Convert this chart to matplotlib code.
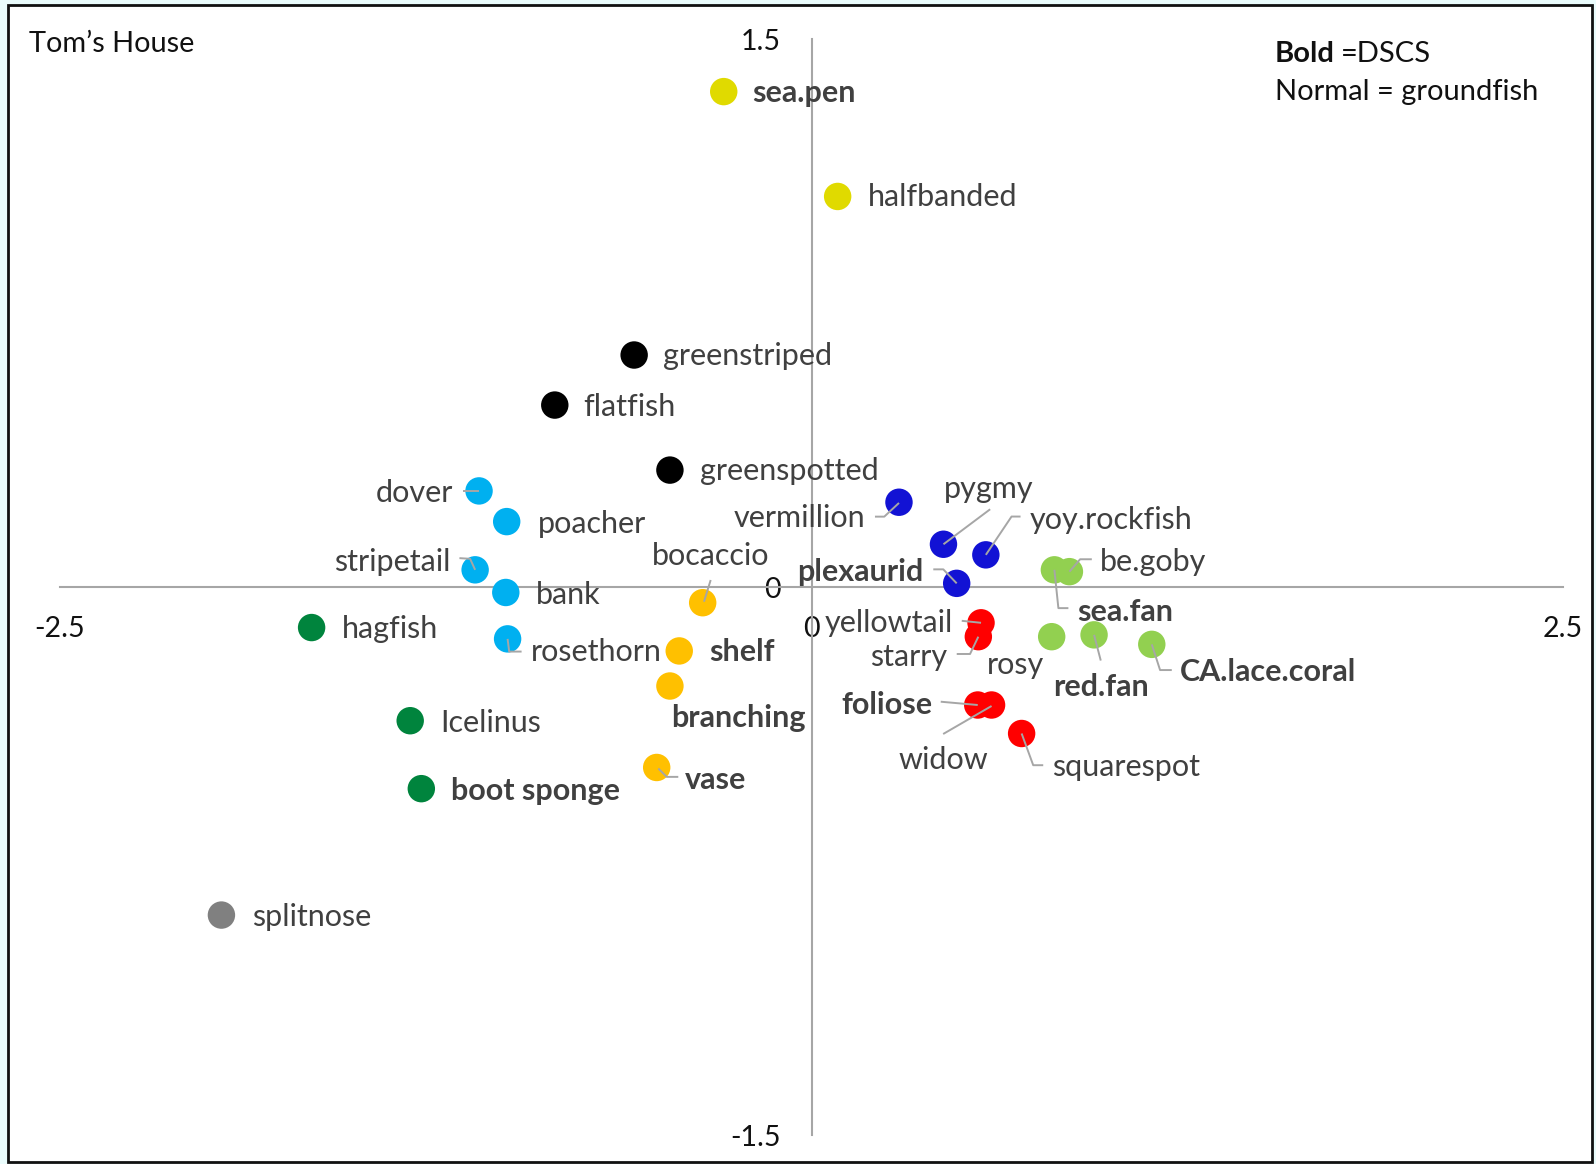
import matplotlib
matplotlib.use("Agg")
import matplotlib.pyplot as plt
from matplotlib.patches import Rectangle

plt.rcParams['font.family'] = ['Lato', 'DejaVu Sans']

# ordination scores
names = ['sea.pen', 'halfbanded', 'greenstriped', 'flatfish', 'greenspotted',
         'dover', 'poacher', 'stripetail', 'bank', 'rosethorn',
         'hagfish', 'Icelinus', 'boot sponge', 'splitnose',
         'bocaccio', 'shelf', 'branching', 'vase',
         'vermillion', 'pygmy', 'yoy.rockfish', 'plexaurid',
         'sea.fan', 'be.goby', 'rosy', 'red.fan', 'CA.lace.coral',
         'yellowtail', 'starry', 'foliose', 'widow', 'squarespot']
xs = [-0.292, 0.087, -0.590, -0.854, -0.471,
      -1.106, -1.014, -1.119, -1.017, -1.011,
      -1.663, -1.335, -1.298, -1.963,
      -0.362, -0.440, -0.471, -0.515,
      0.291, 0.439, 0.580, 0.483,
      0.808, 0.858, 0.799, 0.940, 1.132,
      0.564, 0.555, 0.553, 0.599, 0.699]
ys = [1.356, 1.069, 0.635, 0.498, 0.320,
      0.263, 0.179, 0.047, -0.015, -0.142,
      -0.111, -0.366, -0.552, -0.898,
      -0.043, -0.175, -0.271, -0.494,
      0.232, 0.117, 0.088, 0.010,
      0.047, 0.042, -0.136, -0.131, -0.157,
      -0.098, -0.136, -0.323, -0.323, -0.401]
groups = ['yellow', 'yellow', 'black', 'black', 'black',
          'lblue', 'lblue', 'lblue', 'lblue', 'lblue',
          'dgreen', 'dgreen', 'dgreen', 'grey',
          'orange', 'orange', 'orange', 'orange',
          'blue', 'blue', 'blue', 'blue',
          'lgreen', 'lgreen', 'lgreen', 'lgreen', 'lgreen',
          'red', 'red', 'red', 'red', 'red']
dscs = ['sea.pen', 'boot sponge', 'shelf', 'branching', 'vase', 'plexaurid',
        'sea.fan', 'red.fan', 'CA.lace.coral', 'foliose']

colors = {'yellow': '#E0DA00', 'black': '#000000', 'lblue': '#00B0F0',
          'dgreen': '#00843D', 'grey': '#808080', 'orange': '#FFC000',
          'blue': '#1212D4', 'lgreen': '#92D050', 'red': '#FF0000'}

# label placement in image pixels from the dot (y down): dx, dy, ha, leader points
label_pos = {
    'sea.pen': (28.5, 1, 'left', None),
    'halfbanded': (30.5, 1, 'left', None),
    'greenstriped': (28.5, 1, 'left', None),
    'flatfish': (28.5, 2, 'left', None),
    'greenspotted': (30, 1, 'left', None),
    'dover': (-25.7, 2, 'right', [(-16, 0), (0, 0)]),
    'poacher': (31, 2, 'left', None),
    'stripetail': (-24.3, -8.3, 'right', [(-15.7, -11.7), (-5, -11), (0, 0)]),
    'bank': (30, 3, 'left', None),
    'rosethorn': (23.3, 12.7, 'left', [(0, 0), (1.6, 12.7), (14, 12.7)]),
    'hagfish': (30, 1.6, 'left', None),
    'Icelinus': (30.5, 2, 'left', None),
    'boot sponge': (29.5, 2, 'left', None),
    'splitnose': (31, 2, 'left', None),
    'bocaccio': (7.6, -46.7, 'center', [(1.3, -1), (8, -22.7)]),
    'shelf': (30, 0.7, 'left', None),
    'branching': (1.7, 32, 'left', None),
    'vase': (28.3, 12.7, 'left', [(1.6, 1), (10, 9.4), (21.6, 9.4)]),
    'vermillion': (-34, 16, 'right', [(-24, 14.4), (-14.7, 14.4), (0, 0.7)]),
    'pygmy': (45.7, -55, 'center', [(0, 0), (46.7, -35)]),
    'yoy.rockfish': (44, -35, 'left', [(0, 0), (25.7, -38.3), (34.7, -38.3)]),
    'plexaurid': (-33.4, -11.6, 'right', [(-23.4, -14), (-13.4, -14), (0, 0)]),
    'sea.fan': (22.4, 41.7, 'left', [(0, 0), (4, 38.3), (14, 38.3)]),
    'be.goby': (30.7, -10, 'left', [(0, 0), (10.7, -12.4), (22.4, -12.4)]),
    'rosy': (-35.7, 28.3, 'center', None),
    'red.fan': (6.8, 51.7, 'center', [(0, 0), (6.7, 25.7)]),
    'CA.lace.coral': (28.3, 27.4, 'left', [(0, 0), (8.3, 25.7), (20, 25.7)]),
    'yellowtail': (-27.7, 0.6, 'right', [(-19.3, -2), (0, 0)]),
    'starry': (-31.6, 20, 'right', [(-21.6, 17.3), (-8.3, 17.3), (0, 0)]),
    'foliose': (-45.4, 0, 'right', [(-37, -3.3), (0, 0)]),
    'widow': (-48.4, 55, 'center', [(-48.4, 29), (0, 1)]),
    'squarespot': (30, 33.4, 'left', [(0, 0), (11.6, 31.7), (21.6, 31.7)]),
}

W, H = 1596, 1164
fig = plt.figure(figsize=(W / 100, H / 100), dpi=100)
fig.patch.set_facecolor('#EAFCFC')
fig.add_artist(Rectangle((8 / W, 2 / H), 1584 / W, 1157 / H, transform=fig.transFigure,
                         facecolor='white', edgecolor='#111111', lw=2, zorder=0))

ax = fig.add_axes([60 / W, 29 / H, 1503 / W, 1096 / H])
ax.set_facecolor('none')
ax.set_xlim(-2.5, 2.5)
ax.set_ylim(-1.5, 1.5)
for s in ['top', 'right']:
    ax.spines[s].set_visible(False)
for s in ['left', 'bottom']:
    ax.spines[s].set_position(('data', 0))
    ax.spines[s].set_color('#A6A6A6')
    ax.spines[s].set_linewidth(1.5)
ax.set_xticks([-2.5, 0, 2.5], ['-2.5', '0', '2.5'])
ax.set_yticks([-1.5, 0, 1.5], ['-1.5', '0', '1.5'])
ax.tick_params(length=0, labelsize=20.5, labelcolor='#111111')
ax.tick_params(axis='x', pad=21)
ax.tick_params(axis='y', pad=22)

ax.scatter(xs, ys, c=[colors[g] for g in groups], s=390, linewidths=0, zorder=3)

to_data = ax.transData.inverted()
for name, x, y in zip(names, xs, ys):
    dx, dy, ha, leader = label_pos[name]
    ax.annotate(name, (x, y), xytext=(dx, -dy), textcoords='offset pixels',
                ha=ha, va='center', fontsize=22, color='#404040',
                fontweight='bold' if name in dscs else 'normal', zorder=5)
    if leader:
        px, py = ax.transData.transform((x, y))
        pts = to_data.transform([(px + ox, py - oy) for ox, oy in leader])
        ax.plot(pts[:, 0], pts[:, 1], color='#A6A6A6', lw=1.4, zorder=4,
                solid_capstyle='butt')

fig.text(29 / W, 1 - 52 / H, 'Tom’s House', fontsize=20.8, va='baseline', color='#111111')
fig.text(1275 / W, 1 - 62 / H, 'Bold', fontsize=21, fontweight='bold', va='baseline', color='#111111')
fig.text(1341 / W, 1 - 62 / H, '=DSCS', fontsize=21, va='baseline', color='#111111')
fig.text(1275 / W, 1 - 100 / H, 'Normal = groundfish', fontsize=21, va='baseline', color='#111111')

fig.savefig('out.png', dpi=100, facecolor=fig.get_facecolor())
